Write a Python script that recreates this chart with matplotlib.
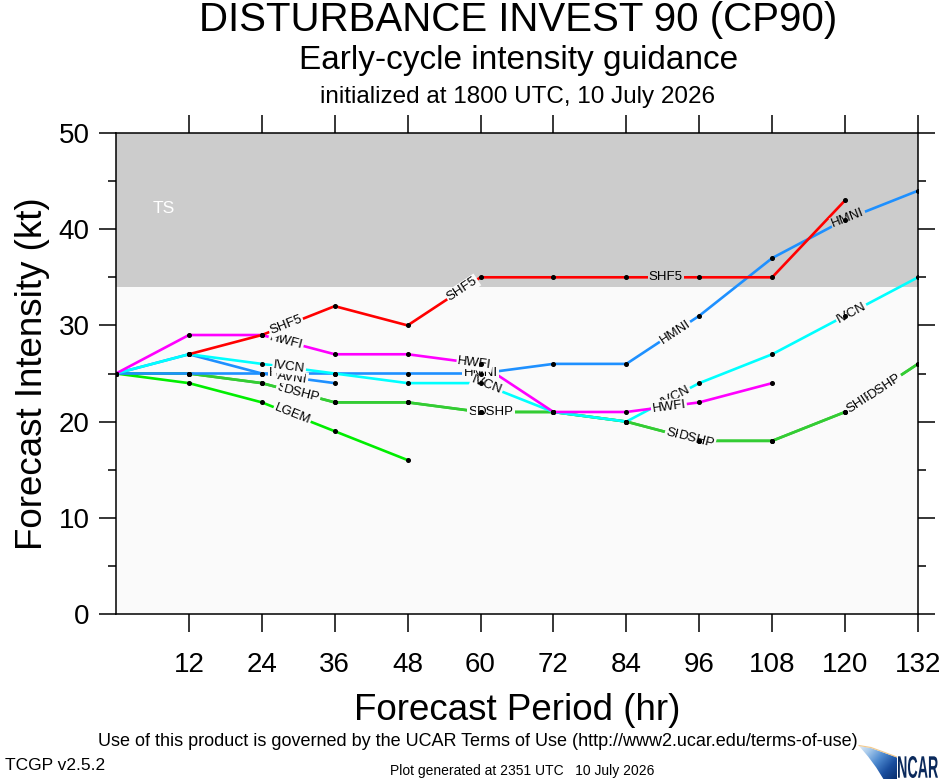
import numpy as np
import matplotlib
matplotlib.use("Agg")
import matplotlib.pyplot as plt
from matplotlib.patches import Polygon, PathPatch
from matplotlib.textpath import TextPath
from matplotlib.font_manager import FontProperties
from matplotlib.colors import LinearSegmentedColormap
from matplotlib.transforms import Affine2D

plt.rcParams['font.family'] = ['Liberation Sans', 'DejaVu Sans']

# ---------------- data ----------------
hours = [0, 12, 24, 36, 48, 60, 72, 84, 96, 108, 120, 132]
nan = np.nan
shf5 = [nan, 27, 29, 32, 30, 35, 35, 35, 35, 35, 43, nan]
hwfi = [25, 29, 29, 27, 27, 26, 21, 21, 22, 24, nan, nan]
ivcn = [25, 27, 26, 25, 24, 24, 21, 20, 24, 27, 31, 35]
hmni = [25, 25, 25, 25, 25, 25, 26, 26, 31, 37, 41, 44]
avni = [25, 27, 25, 24, nan, nan, nan, nan, nan, nan, nan, nan]
ship = [25, 25, 24, 22, 22, 21, 21, 20, 18, 18, 21, 26]
dshp = [25, 25, 24, 22, 22, 21, 21, 20, 18, 18, 21, 26]
lgem = [25, 24, 22, 19, 16, nan, nan, nan, nan, nan, nan, nan]

model_names = ['SHIP', 'DSHP', 'LGEM', 'HMNI', 'AVNI', 'IVCN', 'HWFI', 'SHF5']
model_values = [ship, dshp, lgem, hmni, avni, ivcn, hwfi, shf5]
model_colors = ['#33CC33', '#33CC33', '#00EE00', '#1E90FF', '#1E90FF',
                '#00FFFF', '#FF00FF', '#FF0000']
label_hours = [[29, 60.5, 93, 122.5], [30.5, 62.5, 95.5, 126.5], [29], [28, 60, 92, 120.5],
               [29], [28.5, 61, 92, 121], [28, 59, 91], [28, 57, 90.5]]

x_ticks = [12, 24, 36, 48, 60, 72, 84, 96, 108, 120, 132]
y_ticks = [0, 10, 20, 30, 40, 50]
ts_threshold = 34

title = "DISTURBANCE INVEST 90 (CP90)"
subtitle = "Early-cycle intensity guidance"
init_line = "initialized at 1800 UTC, 10 July 2026"

# ---------------- figure ----------------
fig = plt.figure(figsize=(9.4, 7.8), dpi=100)
ax = fig.add_axes([116 / 940, 1 - 614 / 780, (918 - 116) / 940, (614 - 133) / 780])
ax.set_xlim(0, 132)
ax.set_ylim(0, 50)

BG_LOW = '#FAFAFA'
BG_HIGH = '#CCCCCC'
ax.axhspan(0, ts_threshold, color=BG_LOW, zorder=0, lw=0)
ax.axhspan(ts_threshold, 50, color=BG_HIGH, zorder=0, lw=0)
ax.text(7.8, 42.1, 'TS', color='white', fontsize=12.5, ha='center', va='center', zorder=1)


def seg_angle(xq, xs, ys):
    i = int(np.searchsorted(xs, xq)) - 1
    i = max(0, min(i, len(xs) - 2))
    p1 = ax.transData.transform((xs[i], ys[i]))
    p2 = ax.transData.transform((xs[i + 1], ys[i + 1]))
    return np.degrees(np.arctan2(p2[1] - p1[1], p2[0] - p1[0]))


for k, (name, vals, col, lh) in enumerate(zip(model_names, model_values, model_colors, label_hours)):
    xs = np.array(hours, dtype=float)
    ys = np.array(vals, dtype=float)
    ok = ~np.isnan(ys)
    xs, ys = xs[ok], ys[ok]
    ax.plot(xs, ys, color=col, lw=1.9, zorder=2 + k * 0.01, solid_capstyle='butt')
    ax.plot(xs, ys, 'o', color='black', ms=2.6, zorder=4)
    for h in lh:
        yv = np.interp(h, xs, ys)
        ang = seg_angle(h, xs, ys)
        bg = BG_HIGH if yv > ts_threshold else BG_LOW
        ax.text(h, yv, name, fontsize=9.5, rotation=ang, rotation_mode='anchor',
                ha='center', va='center', color='black', zorder=3,
                bbox=dict(boxstyle='square,pad=0.08', fc=bg, ec='none'))

# axes styling
ax.set_xticks(x_ticks)
ax.set_xticklabels([str(t) for t in x_ticks])
ax.set_yticks(y_ticks)
ax.set_yticks(np.arange(5, 50, 10), minor=True)
ax.tick_params(axis='x', which='major', direction='out', length=13, width=1.1,
               labelsize=20, top=True, pad=14)
ax.tick_params(axis='y', which='major', direction='out', length=12, width=1.1,
               labelsize=20, right=True, pad=7)
ax.tick_params(axis='y', which='minor', direction='out', length=6, width=1.1, right=True)
for s in ax.spines.values():
    s.set_linewidth(1.1)

ax.set_xlabel('Forecast Period (hr)', fontsize=26.5, labelpad=11)
ax.set_ylabel('Forecast Intensity (kt)', fontsize=26.5, labelpad=6)

# titles
fig.text(518 / 940, 1 - 20 / 780, title, fontsize=29, ha='center', va='center')
fig.text(519 / 940, 1 - 61 / 780, subtitle, fontsize=24, ha='center', va='center')
fig.text(518 / 940, 1 - 97 / 780, init_line, fontsize=17.5, ha='center', va='center')

# footer
fig.text(478 / 940, 1 - 742 / 780,
         'Use of this product is governed by the UCAR Terms of Use (http://www2.ucar.edu/terms-of-use)',
         fontsize=13, ha='center', va='center')
fig.text(5 / 940, 1 - 765 / 780, 'TCGP v2.5.2', fontsize=12.5, ha='left', va='center')
fig.text(522 / 940, 1 - 771 / 780, 'Plot generated at 2351 UTC   10 July 2026',
         fontsize=10, ha='center', va='center')

# NCAR logo (approximate): gradient swoosh + condensed wordmark
lax = fig.add_axes([857 / 940, 1 - 779 / 780, 40 / 940, 36 / 780])
lax.set_xlim(0, 1)
lax.set_ylim(0, 1)
lax.axis('off')
gx, gy = np.meshgrid(np.linspace(0, 1, 80), np.linspace(0, 1, 80))
grad = 0.65 * gx + 0.55 * (1 - gy)
cmap = LinearSegmentedColormap.from_list('ncar', ['#F2F6FB', '#A9CBEC', '#4F8BD0', '#1A4E9E', '#0A2F6E'])
im = lax.imshow(grad, extent=(0, 1, 0, 1), origin='lower', cmap=cmap, aspect='auto')
clip = Polygon([(0.05, 0.92), (0.35, 0.86), (0.65, 0.74), (1.0, 0.60), (1.0, 0.0),
                (0.66, 0.0), (0.48, 0.32), (0.28, 0.62)], closed=True,
               transform=lax.transData, fc='none', ec='none')
lax.add_patch(clip)
im.set_clip_path(clip)
lax.plot([0.05, 0.35, 0.65, 1.0], [0.93, 0.875, 0.755, 0.61], color='#F3C98B', lw=0.8)

tp = TextPath((0, 0), 'NCAR', size=10, prop=FontProperties(family='Liberation Sans', weight='bold'))
bb = tp.get_extents()
sx = 40.0 / bb.width
sy = 22.0 / bb.height
tr = (Affine2D().translate(-bb.x0, -bb.y0).scale(sx, sy).translate(898, 2)
      .scale(1 / fig.dpi) + fig.dpi_scale_trans)
fig.patches.append(PathPatch(tp, transform=tr, fc='#0B2A5C', ec='none'))

fig.savefig('out.png', dpi=100)
